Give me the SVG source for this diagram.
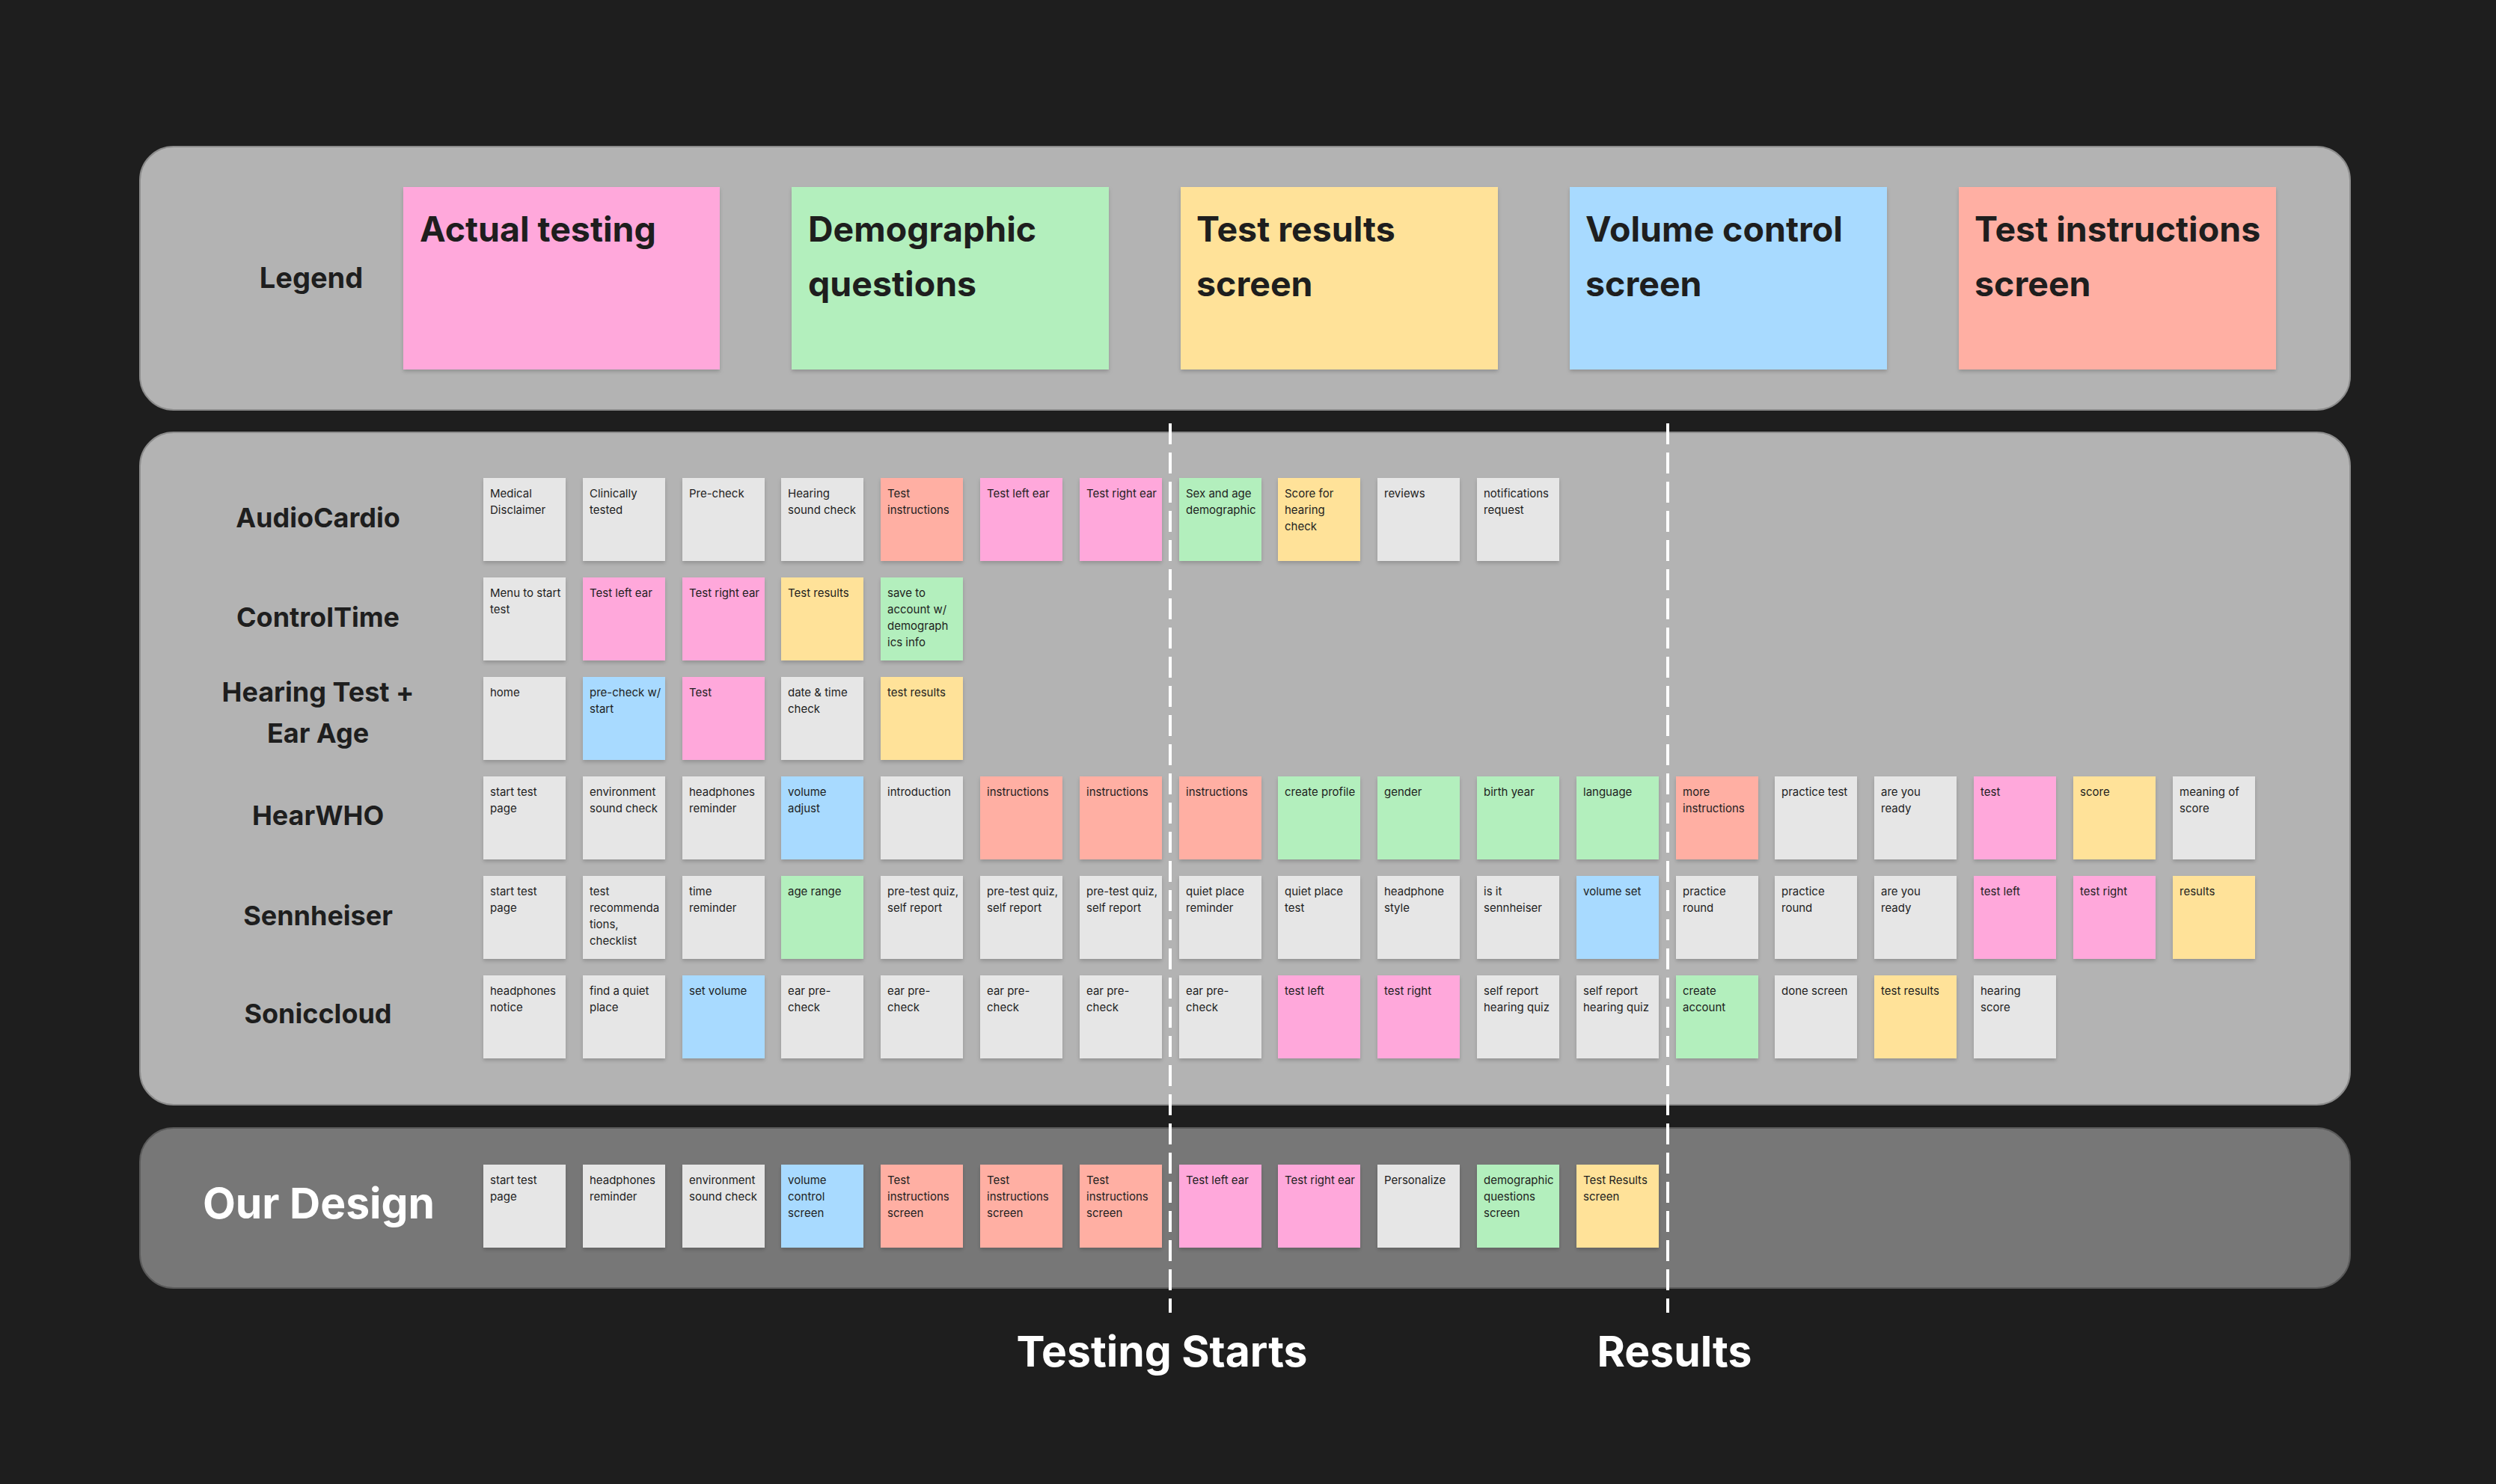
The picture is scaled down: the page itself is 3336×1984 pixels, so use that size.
<svg xmlns="http://www.w3.org/2000/svg" width="3336" height="1984" viewBox="0 0 3336 1984">
<style>
.bg{fill:#1e1e1e}
.panel{fill:#b3b3b3;stroke:#8c8c8c;stroke-width:2}
.panelD{fill:#777777;stroke:#5a5a5a;stroke-width:2}
.gy{fill:#e6e6e6}
.pk{fill:#ffa8db}
.gn{fill:#b3efbd}
.yl{fill:#ffe299}
.bl{fill:#a8daff}
.rd{fill:#ffafa3}
.t{font-family:Inter,"Noto Sans","Liberation Sans",sans-serif;font-size:15px;fill:#1e1e1e}
.lt{font-family:Inter,"Noto Sans","Liberation Sans",sans-serif;font-size:46.5px;font-weight:700;fill:#1e1e1e}
.row{font-family:Inter,"Noto Sans","Liberation Sans",sans-serif;font-size:36px;font-weight:700;fill:#1e1e1e;text-anchor:middle}
.big{font-family:Inter,"Noto Sans","Liberation Sans",sans-serif;font-size:57px;font-weight:700;fill:#ffffff;text-anchor:middle}
.dash{stroke:#ffffff;stroke-width:4;stroke-dasharray:28 11;fill:none}
</style>
<defs>
<filter id="sh" x="-10%" y="-10%" width="120%" height="130%">
<feDropShadow dx="0" dy="3" stdDeviation="2.5" flood-color="#000000" flood-opacity="0.18"/>
</filter>
</defs>
<rect class="bg" x="0" y="0" width="3336" height="1984"/>

<g id="panels">
<rect class="panel" x="187" y="196" width="2954" height="352" rx="45"/>
<rect class="panel" x="187" y="578" width="2954" height="899" rx="45"/>
<rect class="panelD" x="187" y="1508" width="2954" height="214" rx="45"/>
</g>

<g id="legend">
<text class="row" x="416" y="385" style="font-size:38px">Legend</text>
<g id="lg-actual" transform="translate(539,250)"><rect class="pk" width="423" height="244" filter="url(#sh)"/><text class="lt" x="22" y="73">Actual testing</text></g>
<g id="lg-demo" transform="translate(1058,250)"><rect class="gn" width="424" height="244" filter="url(#sh)"/><text class="lt" x="22" y="73">Demographic<tspan x="22" dy="73">questions</tspan></text></g>
<g id="lg-results" transform="translate(1578,250)"><rect class="yl" width="424" height="244" filter="url(#sh)"/><text class="lt" x="21" y="73">Test results<tspan x="21" dy="73">screen</tspan></text></g>
<g id="lg-volume" transform="translate(2098,250)"><rect class="bl" width="424" height="244" filter="url(#sh)"/><text class="lt" x="21" y="73">Volume control<tspan x="21" dy="73">screen</tspan></text></g>
<g id="lg-instr" transform="translate(2618,250)"><rect class="rd" width="424" height="244" filter="url(#sh)"/><text class="lt" x="21" y="73">Test instructions<tspan x="21" dy="73">screen</tspan></text></g>
</g>

<g id="row-labels">
<text class="row" x="425" y="705">AudioCardio</text>
<text class="row" x="425" y="838">ControlTime</text>
<text class="row" x="425" y="938">Hearing Test +<tspan x="425" dy="55">Ear Age</tspan></text>
<text class="row" x="425" y="1103">HearWHO</text>
<text class="row" x="425" y="1237">Sennheiser</text>
<text class="row" x="425" y="1368">Soniccloud</text>
<text class="big" x="426" y="1629">Our Design</text>
</g>

<g id="audiocardio">
<g id="ac0" transform="translate(646,639)"><rect class="gy" width="110" height="111" filter="url(#sh)"/><text class="t" x="9" y="26">Medical<tspan x="9" dy="22">Disclaimer</tspan></text></g>
<g id="ac1" transform="translate(779,639)"><rect class="gy" width="110" height="111" filter="url(#sh)"/><text class="t" x="9" y="26">Clinically<tspan x="9" dy="22">tested</tspan></text></g>
<g id="ac2" transform="translate(912,639)"><rect class="gy" width="110" height="111" filter="url(#sh)"/><text class="t" x="9" y="26">Pre-check</text></g>
<g id="ac3" transform="translate(1044,639)"><rect class="gy" width="110" height="111" filter="url(#sh)"/><text class="t" x="9" y="26">Hearing<tspan x="9" dy="22">sound check</tspan></text></g>
<g id="ac4" transform="translate(1177,639)"><rect class="rd" width="110" height="111" filter="url(#sh)"/><text class="t" x="9" y="26">Test<tspan x="9" dy="22">instructions</tspan></text></g>
<g id="ac5" transform="translate(1310,639)"><rect class="pk" width="110" height="111" filter="url(#sh)"/><text class="t" x="9" y="26">Test left ear</text></g>
<g id="ac6" transform="translate(1443,639)"><rect class="pk" width="110" height="111" filter="url(#sh)"/><text class="t" x="9" y="26">Test right ear</text></g>
<g id="ac7" transform="translate(1576,639)"><rect class="gn" width="110" height="111" filter="url(#sh)"/><text class="t" x="9" y="26">Sex and age<tspan x="9" dy="22">demographic</tspan></text></g>
<g id="ac8" transform="translate(1708,639)"><rect class="yl" width="110" height="111" filter="url(#sh)"/><text class="t" x="9" y="26">Score for<tspan x="9" dy="22">hearing</tspan><tspan x="9" dy="22">check</tspan></text></g>
<g id="ac9" transform="translate(1841,639)"><rect class="gy" width="110" height="111" filter="url(#sh)"/><text class="t" x="9" y="26">reviews</text></g>
<g id="ac10" transform="translate(1974,639)"><rect class="gy" width="110" height="111" filter="url(#sh)"/><text class="t" x="9" y="26">notifications<tspan x="9" dy="22">request</tspan></text></g>
</g>

<g id="controltime">
<g id="ct0" transform="translate(646,772)"><rect class="gy" width="110" height="111" filter="url(#sh)"/><text class="t" x="9" y="26">Menu to start<tspan x="9" dy="22">test</tspan></text></g>
<g id="ct1" transform="translate(779,772)"><rect class="pk" width="110" height="111" filter="url(#sh)"/><text class="t" x="9" y="26">Test left ear</text></g>
<g id="ct2" transform="translate(912,772)"><rect class="pk" width="110" height="111" filter="url(#sh)"/><text class="t" x="9" y="26">Test right ear</text></g>
<g id="ct3" transform="translate(1044,772)"><rect class="yl" width="110" height="111" filter="url(#sh)"/><text class="t" x="9" y="26">Test results</text></g>
<g id="ct4" transform="translate(1177,772)"><rect class="gn" width="110" height="111" filter="url(#sh)"/><text class="t" x="9" y="26">save to<tspan x="9" dy="22">account w/</tspan><tspan x="9" dy="22">demograph</tspan><tspan x="9" dy="22">ics info</tspan></text></g>
</g>

<g id="hearingtest">
<g id="ht0" transform="translate(646,905)"><rect class="gy" width="110" height="111" filter="url(#sh)"/><text class="t" x="9" y="26">home</text></g>
<g id="ht1" transform="translate(779,905)"><rect class="bl" width="110" height="111" filter="url(#sh)"/><text class="t" x="9" y="26">pre-check w/<tspan x="9" dy="22">start</tspan></text></g>
<g id="ht2" transform="translate(912,905)"><rect class="pk" width="110" height="111" filter="url(#sh)"/><text class="t" x="9" y="26">Test</text></g>
<g id="ht3" transform="translate(1044,905)"><rect class="gy" width="110" height="111" filter="url(#sh)"/><text class="t" x="9" y="26">date &amp; time<tspan x="9" dy="22">check</tspan></text></g>
<g id="ht4" transform="translate(1177,905)"><rect class="yl" width="110" height="111" filter="url(#sh)"/><text class="t" x="9" y="26">test results</text></g>
</g>

<g id="hearwho">
<g id="hw0" transform="translate(646,1038)"><rect class="gy" width="110" height="111" filter="url(#sh)"/><text class="t" x="9" y="26">start test<tspan x="9" dy="22">page</tspan></text></g>
<g id="hw1" transform="translate(779,1038)"><rect class="gy" width="110" height="111" filter="url(#sh)"/><text class="t" x="9" y="26">environment<tspan x="9" dy="22">sound check</tspan></text></g>
<g id="hw2" transform="translate(912,1038)"><rect class="gy" width="110" height="111" filter="url(#sh)"/><text class="t" x="9" y="26">headphones<tspan x="9" dy="22">reminder</tspan></text></g>
<g id="hw3" transform="translate(1044,1038)"><rect class="bl" width="110" height="111" filter="url(#sh)"/><text class="t" x="9" y="26">volume<tspan x="9" dy="22">adjust</tspan></text></g>
<g id="hw4" transform="translate(1177,1038)"><rect class="gy" width="110" height="111" filter="url(#sh)"/><text class="t" x="9" y="26">introduction</text></g>
<g id="hw5" transform="translate(1310,1038)"><rect class="rd" width="110" height="111" filter="url(#sh)"/><text class="t" x="9" y="26">instructions</text></g>
<g id="hw6" transform="translate(1443,1038)"><rect class="rd" width="110" height="111" filter="url(#sh)"/><text class="t" x="9" y="26">instructions</text></g>
<g id="hw7" transform="translate(1576,1038)"><rect class="rd" width="110" height="111" filter="url(#sh)"/><text class="t" x="9" y="26">instructions</text></g>
<g id="hw8" transform="translate(1708,1038)"><rect class="gn" width="110" height="111" filter="url(#sh)"/><text class="t" x="9" y="26">create profile</text></g>
<g id="hw9" transform="translate(1841,1038)"><rect class="gn" width="110" height="111" filter="url(#sh)"/><text class="t" x="9" y="26">gender</text></g>
<g id="hw10" transform="translate(1974,1038)"><rect class="gn" width="110" height="111" filter="url(#sh)"/><text class="t" x="9" y="26">birth year</text></g>
<g id="hw11" transform="translate(2107,1038)"><rect class="gn" width="110" height="111" filter="url(#sh)"/><text class="t" x="9" y="26">language</text></g>
<g id="hw12" transform="translate(2240,1038)"><rect class="rd" width="110" height="111" filter="url(#sh)"/><text class="t" x="9" y="26">more<tspan x="9" dy="22">instructions</tspan></text></g>
<g id="hw13" transform="translate(2372,1038)"><rect class="gy" width="110" height="111" filter="url(#sh)"/><text class="t" x="9" y="26">practice test</text></g>
<g id="hw14" transform="translate(2505,1038)"><rect class="gy" width="110" height="111" filter="url(#sh)"/><text class="t" x="9" y="26">are you<tspan x="9" dy="22">ready</tspan></text></g>
<g id="hw15" transform="translate(2638,1038)"><rect class="pk" width="110" height="111" filter="url(#sh)"/><text class="t" x="9" y="26">test</text></g>
<g id="hw16" transform="translate(2771,1038)"><rect class="yl" width="110" height="111" filter="url(#sh)"/><text class="t" x="9" y="26">score</text></g>
<g id="hw17" transform="translate(2904,1038)"><rect class="gy" width="110" height="111" filter="url(#sh)"/><text class="t" x="9" y="26">meaning of<tspan x="9" dy="22">score</tspan></text></g>
</g>

<g id="sennheiser">
<g id="se0" transform="translate(646,1171)"><rect class="gy" width="110" height="111" filter="url(#sh)"/><text class="t" x="9" y="26">start test<tspan x="9" dy="22">page</tspan></text></g>
<g id="se1" transform="translate(779,1171)"><rect class="gy" width="110" height="111" filter="url(#sh)"/><text class="t" x="9" y="26">test<tspan x="9" dy="22">recommenda</tspan><tspan x="9" dy="22">tions,</tspan><tspan x="9" dy="22">checklist</tspan></text></g>
<g id="se2" transform="translate(912,1171)"><rect class="gy" width="110" height="111" filter="url(#sh)"/><text class="t" x="9" y="26">time<tspan x="9" dy="22">reminder</tspan></text></g>
<g id="se3" transform="translate(1044,1171)"><rect class="gn" width="110" height="111" filter="url(#sh)"/><text class="t" x="9" y="26">age range</text></g>
<g id="se4" transform="translate(1177,1171)"><rect class="gy" width="110" height="111" filter="url(#sh)"/><text class="t" x="9" y="26">pre-test quiz,<tspan x="9" dy="22">self report</tspan></text></g>
<g id="se5" transform="translate(1310,1171)"><rect class="gy" width="110" height="111" filter="url(#sh)"/><text class="t" x="9" y="26">pre-test quiz,<tspan x="9" dy="22">self report</tspan></text></g>
<g id="se6" transform="translate(1443,1171)"><rect class="gy" width="110" height="111" filter="url(#sh)"/><text class="t" x="9" y="26">pre-test quiz,<tspan x="9" dy="22">self report</tspan></text></g>
<g id="se7" transform="translate(1576,1171)"><rect class="gy" width="110" height="111" filter="url(#sh)"/><text class="t" x="9" y="26">quiet place<tspan x="9" dy="22">reminder</tspan></text></g>
<g id="se8" transform="translate(1708,1171)"><rect class="gy" width="110" height="111" filter="url(#sh)"/><text class="t" x="9" y="26">quiet place<tspan x="9" dy="22">test</tspan></text></g>
<g id="se9" transform="translate(1841,1171)"><rect class="gy" width="110" height="111" filter="url(#sh)"/><text class="t" x="9" y="26">headphone<tspan x="9" dy="22">style</tspan></text></g>
<g id="se10" transform="translate(1974,1171)"><rect class="gy" width="110" height="111" filter="url(#sh)"/><text class="t" x="9" y="26">is it<tspan x="9" dy="22">sennheiser</tspan></text></g>
<g id="se11" transform="translate(2107,1171)"><rect class="bl" width="110" height="111" filter="url(#sh)"/><text class="t" x="9" y="26">volume set</text></g>
<g id="se12" transform="translate(2240,1171)"><rect class="gy" width="110" height="111" filter="url(#sh)"/><text class="t" x="9" y="26">practice<tspan x="9" dy="22">round</tspan></text></g>
<g id="se13" transform="translate(2372,1171)"><rect class="gy" width="110" height="111" filter="url(#sh)"/><text class="t" x="9" y="26">practice<tspan x="9" dy="22">round</tspan></text></g>
<g id="se14" transform="translate(2505,1171)"><rect class="gy" width="110" height="111" filter="url(#sh)"/><text class="t" x="9" y="26">are you<tspan x="9" dy="22">ready</tspan></text></g>
<g id="se15" transform="translate(2638,1171)"><rect class="pk" width="110" height="111" filter="url(#sh)"/><text class="t" x="9" y="26">test left</text></g>
<g id="se16" transform="translate(2771,1171)"><rect class="pk" width="110" height="111" filter="url(#sh)"/><text class="t" x="9" y="26">test right</text></g>
<g id="se17" transform="translate(2904,1171)"><rect class="yl" width="110" height="111" filter="url(#sh)"/><text class="t" x="9" y="26">results</text></g>
</g>

<g id="soniccloud">
<g id="sc0" transform="translate(646,1304)"><rect class="gy" width="110" height="111" filter="url(#sh)"/><text class="t" x="9" y="26">headphones<tspan x="9" dy="22">notice</tspan></text></g>
<g id="sc1" transform="translate(779,1304)"><rect class="gy" width="110" height="111" filter="url(#sh)"/><text class="t" x="9" y="26">find a quiet<tspan x="9" dy="22">place</tspan></text></g>
<g id="sc2" transform="translate(912,1304)"><rect class="bl" width="110" height="111" filter="url(#sh)"/><text class="t" x="9" y="26">set volume</text></g>
<g id="sc3" transform="translate(1044,1304)"><rect class="gy" width="110" height="111" filter="url(#sh)"/><text class="t" x="9" y="26">ear pre-<tspan x="9" dy="22">check</tspan></text></g>
<g id="sc4" transform="translate(1177,1304)"><rect class="gy" width="110" height="111" filter="url(#sh)"/><text class="t" x="9" y="26">ear pre-<tspan x="9" dy="22">check</tspan></text></g>
<g id="sc5" transform="translate(1310,1304)"><rect class="gy" width="110" height="111" filter="url(#sh)"/><text class="t" x="9" y="26">ear pre-<tspan x="9" dy="22">check</tspan></text></g>
<g id="sc6" transform="translate(1443,1304)"><rect class="gy" width="110" height="111" filter="url(#sh)"/><text class="t" x="9" y="26">ear pre-<tspan x="9" dy="22">check</tspan></text></g>
<g id="sc7" transform="translate(1576,1304)"><rect class="gy" width="110" height="111" filter="url(#sh)"/><text class="t" x="9" y="26">ear pre-<tspan x="9" dy="22">check</tspan></text></g>
<g id="sc8" transform="translate(1708,1304)"><rect class="pk" width="110" height="111" filter="url(#sh)"/><text class="t" x="9" y="26">test left</text></g>
<g id="sc9" transform="translate(1841,1304)"><rect class="pk" width="110" height="111" filter="url(#sh)"/><text class="t" x="9" y="26">test right</text></g>
<g id="sc10" transform="translate(1974,1304)"><rect class="gy" width="110" height="111" filter="url(#sh)"/><text class="t" x="9" y="26">self report<tspan x="9" dy="22">hearing quiz</tspan></text></g>
<g id="sc11" transform="translate(2107,1304)"><rect class="gy" width="110" height="111" filter="url(#sh)"/><text class="t" x="9" y="26">self report<tspan x="9" dy="22">hearing quiz</tspan></text></g>
<g id="sc12" transform="translate(2240,1304)"><rect class="gn" width="110" height="111" filter="url(#sh)"/><text class="t" x="9" y="26">create<tspan x="9" dy="22">account</tspan></text></g>
<g id="sc13" transform="translate(2372,1304)"><rect class="gy" width="110" height="111" filter="url(#sh)"/><text class="t" x="9" y="26">done screen</text></g>
<g id="sc14" transform="translate(2505,1304)"><rect class="yl" width="110" height="111" filter="url(#sh)"/><text class="t" x="9" y="26">test results</text></g>
<g id="sc15" transform="translate(2638,1304)"><rect class="gy" width="110" height="111" filter="url(#sh)"/><text class="t" x="9" y="26">hearing<tspan x="9" dy="22">score</tspan></text></g>
</g>

<g id="ourdesign">
<g id="od0" transform="translate(646,1557)"><rect class="gy" width="110" height="111" filter="url(#sh)"/><text class="t" x="9" y="26">start test<tspan x="9" dy="22">page</tspan></text></g>
<g id="od1" transform="translate(779,1557)"><rect class="gy" width="110" height="111" filter="url(#sh)"/><text class="t" x="9" y="26">headphones<tspan x="9" dy="22">reminder</tspan></text></g>
<g id="od2" transform="translate(912,1557)"><rect class="gy" width="110" height="111" filter="url(#sh)"/><text class="t" x="9" y="26">environment<tspan x="9" dy="22">sound check</tspan></text></g>
<g id="od3" transform="translate(1044,1557)"><rect class="bl" width="110" height="111" filter="url(#sh)"/><text class="t" x="9" y="26">volume<tspan x="9" dy="22">control</tspan><tspan x="9" dy="22">screen</tspan></text></g>
<g id="od4" transform="translate(1177,1557)"><rect class="rd" width="110" height="111" filter="url(#sh)"/><text class="t" x="9" y="26">Test<tspan x="9" dy="22">instructions</tspan><tspan x="9" dy="22">screen</tspan></text></g>
<g id="od5" transform="translate(1310,1557)"><rect class="rd" width="110" height="111" filter="url(#sh)"/><text class="t" x="9" y="26">Test<tspan x="9" dy="22">instructions</tspan><tspan x="9" dy="22">screen</tspan></text></g>
<g id="od6" transform="translate(1443,1557)"><rect class="rd" width="110" height="111" filter="url(#sh)"/><text class="t" x="9" y="26">Test<tspan x="9" dy="22">instructions</tspan><tspan x="9" dy="22">screen</tspan></text></g>
<g id="od7" transform="translate(1576,1557)"><rect class="pk" width="110" height="111" filter="url(#sh)"/><text class="t" x="9" y="26">Test left ear</text></g>
<g id="od8" transform="translate(1708,1557)"><rect class="pk" width="110" height="111" filter="url(#sh)"/><text class="t" x="9" y="26">Test right ear</text></g>
<g id="od9" transform="translate(1841,1557)"><rect class="gy" width="110" height="111" filter="url(#sh)"/><text class="t" x="9" y="26">Personalize</text></g>
<g id="od10" transform="translate(1974,1557)"><rect class="gn" width="110" height="111" filter="url(#sh)"/><text class="t" x="9" y="26">demographic<tspan x="9" dy="22">questions</tspan><tspan x="9" dy="22">screen</tspan></text></g>
<g id="od11" transform="translate(2107,1557)"><rect class="yl" width="110" height="111" filter="url(#sh)"/><text class="t" x="9" y="26">Test Results<tspan x="9" dy="22">screen</tspan></text></g>
</g>

<g id="connectors">
<line class="dash" x1="1564" y1="566" x2="1564" y2="1755"/>
<line class="dash" x1="2229" y1="566" x2="2229" y2="1755"/>
</g>

<g id="markers-text">
<text class="big" x="1553" y="1827">Testing Starts</text>
<text class="big" x="2238" y="1827">Results</text>
</g>
</svg>
